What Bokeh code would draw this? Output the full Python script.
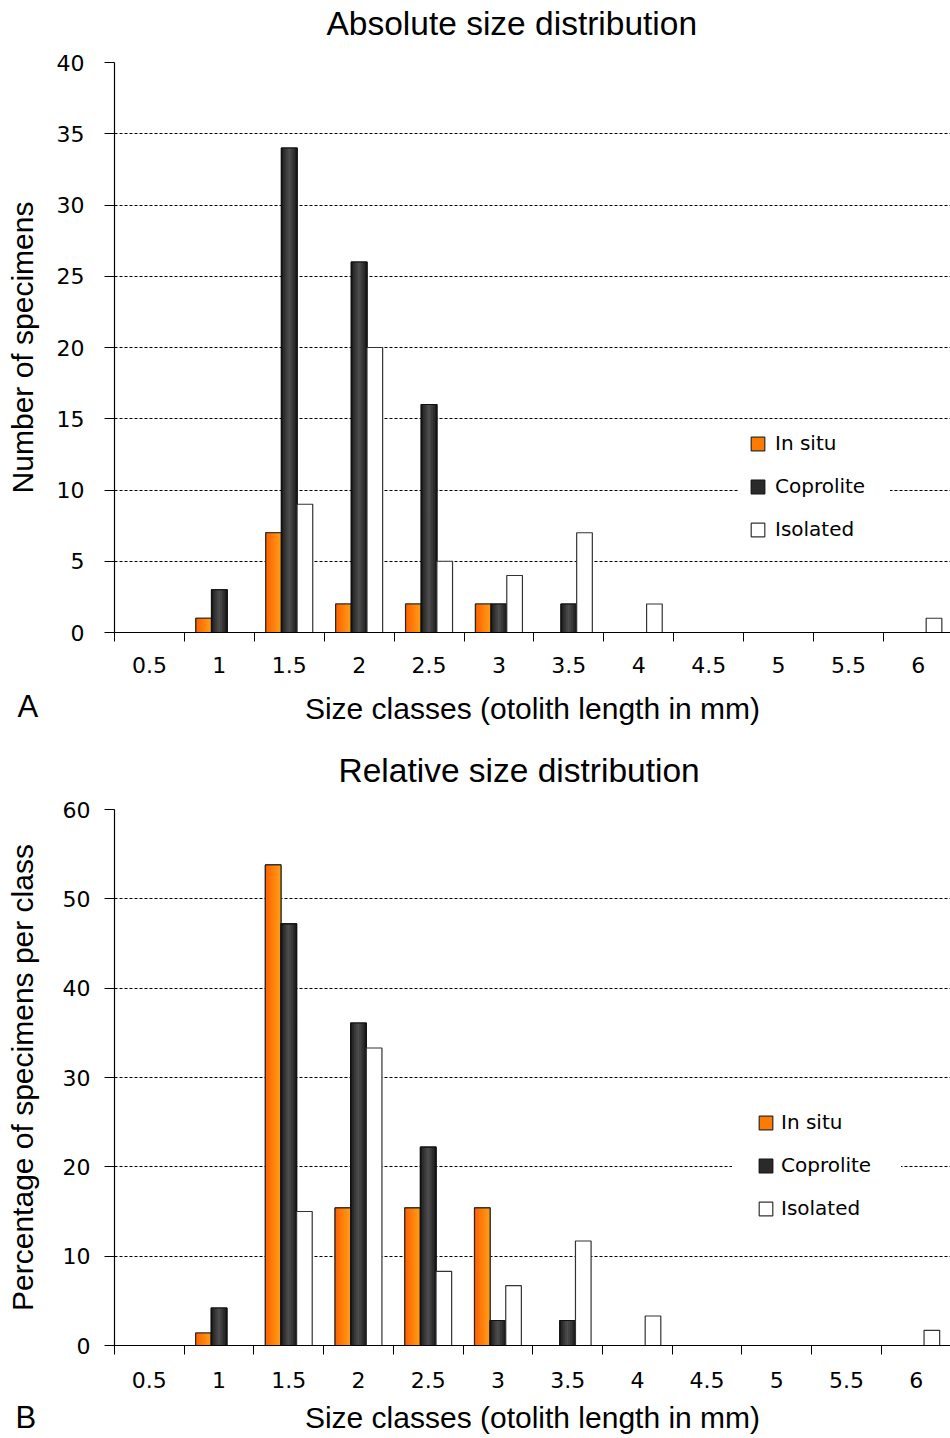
import numpy as np
from bokeh.plotting import figure
from bokeh.models import (FixedTicker, Legend, LegendItem, Range1d, Title,
                          ColumnDataSource, CustomJSTickFormatter)
from bokeh.core.properties import value
from bokeh.layouts import column
from bokeh.embed import file_html
from bokeh.resources import INLINE

# ---------------- data ----------------
size_classes = ["0.5", "1", "1.5", "2", "2.5", "3", "3.5", "4", "4.5", "5", "5.5", "6"]
series_names = ["In situ", "Coprolite", "Isolated"]

abs_in_situ   = [0, 1, 7, 2, 2, 2, 0, 0, 0, 0, 0, 0]
abs_coprolite = [0, 3, 34, 26, 16, 2, 2, 0, 0, 0, 0, 0]
abs_isolated  = [0, 0, 9, 20, 5, 4, 7, 2, 0, 0, 0, 1]

rel_in_situ   = [0, 1.4, 53.8, 15.4, 15.4, 15.4, 0, 0, 0, 0, 0, 0]
rel_coprolite = [0, 4.2, 47.2, 36.1, 22.2, 2.8, 2.8, 0, 0, 0, 0, 0]
rel_isolated  = [0, 0, 15.0, 33.3, 8.3, 6.7, 11.7, 3.3, 0, 0, 0, 1.7]

abs_ticks = list(range(0, 41, 5))
rel_ticks = list(range(0, 61, 10))

# ---------------- style ----------------
TITLE_FONT = "Liberation Sans"
TICK_FONT = "DejaVu Sans"
BAR_W = 0.224
OFFSETS = [-BAR_W, 0.0, BAR_W]
FIG_W = 950
N_STRIPS = 9


def mix(c1, c2, t):
    a = [int(c1[i:i + 2], 16) for i in (1, 3, 5)]
    b = [int(c2[i:i + 2], 16) for i in (1, 3, 5)]
    return "#%02x%02x%02x" % tuple(int(round(a[k] + (b[k] - a[k]) * t)) for k in range(3))


def grad_orange(t):
    return mix("#ff5e00", "#ffa018", t)


def grad_dark(t):
    d = 1 - abs(2 * t - 1)
    return mix("#0e0e0e", "#4e4e4e", d ** 0.7)


STYLES = [
    dict(base="#ff7a00", line="#2a2a2a", grad=grad_orange),
    dict(base="#2a2a2a", line="#111111", grad=grad_dark),
    dict(base="#ffffff", line="#333333", grad=None),
]


def make_panel(title_text, letter, ylabel, data, yticks, height, b_top, b_bottom,
               b_left, cat_px, title_offset, title_gap, legend_loc, legend_standoff,
               legend_halo, legend_label_w, letter_px, ylabel_standoff,
               ytick_standoff, xtick_standoff, xlabel_standoff):
    frame_w = FIG_W - b_left
    frame_h = height - b_top - b_bottom
    ymax = yticks[-1]
    p = figure(width=FIG_W, height=height, output_backend="svg", toolbar_location=None,
               title=None,
               min_border_left=b_left, min_border_right=0, min_border_top=b_top,
               min_border_bottom=b_bottom,
               x_range=Range1d(0, frame_w / cat_px), y_range=Range1d(0, ymax),
               background_fill_color="white", border_fill_color="white")
    p.outline_line_color = None

    # title: a thin spacer next to the frame, then the real title above it
    p.add_layout(Title(text=" ", text_font_size="1px", standoff=title_gap), "above")
    p.add_layout(Title(text=title_text, align="left", offset=title_offset, standoff=0,
                       text_font=TITLE_FONT, text_font_size="33.5px",
                       text_font_style="normal", text_color="black"), "above")

    # axes
    xa = p.xaxis[0]
    xa.ticker = FixedTicker(ticks=[i + 0.5 for i in range(len(size_classes))],
                            minor_ticks=list(range(len(size_classes) + 1)))
    xa.formatter = CustomJSTickFormatter(args=dict(labels=size_classes),
                                         code="return labels[Math.floor(tick)];")
    xa.major_tick_line_color = None
    xa.minor_tick_line_color = "black"
    xa.minor_tick_out = 9
    xa.minor_tick_in = 0
    xa.axis_line_color = "black"
    xa.axis_line_width = 1.2
    xa.major_label_standoff = xtick_standoff
    xa.major_label_text_font = TICK_FONT
    xa.major_label_text_font_size = "22px"
    xa.major_label_text_color = "black"
    xa.axis_label = "Size classes (otolith length in mm)"
    xa.axis_label_text_font = TITLE_FONT
    xa.axis_label_text_font_size = "30px"
    xa.axis_label_text_font_style = "normal"
    xa.axis_label_text_color = "black"
    xa.axis_label_standoff = xlabel_standoff

    ya = p.yaxis[0]
    ya.ticker = FixedTicker(ticks=yticks, minor_ticks=[])
    ya.major_tick_out = 10
    ya.major_tick_in = 0
    ya.major_tick_line_color = "black"
    ya.minor_tick_line_color = None
    ya.axis_line_color = "black"
    ya.axis_line_width = 1.2
    ya.major_label_standoff = ytick_standoff
    ya.major_label_text_font = TICK_FONT
    ya.major_label_text_font_size = "22px"
    ya.major_label_text_color = "black"
    ya.axis_label = ylabel
    ya.axis_label_text_font = TITLE_FONT
    ya.axis_label_text_font_size = "30px"
    ya.axis_label_text_font_style = "normal"
    ya.axis_label_text_color = "black"
    ya.axis_label_standoff = ylabel_standoff

    p.xgrid.visible = False
    p.ygrid.ticker = FixedTicker(ticks=yticks[1:])
    p.ygrid.grid_line_color = "black"
    p.ygrid.grid_line_dash = "3 2"
    p.ygrid.grid_line_width = 1

    # bars
    items = []
    centers = np.arange(len(size_classes)) + 0.5
    for k, (name, vals) in enumerate(zip(series_names, data)):
        st = STYLES[k]
        x = centers + OFFSETS[k]
        src = ColumnDataSource(dict(x=x, top=vals))
        base = p.vbar(x="x", top="top", bottom=0, width=BAR_W, source=src,
                      fill_color=st["base"], line_color=st["line"], line_width=1.2)
        if st["grad"] is not None:
            sw = BAR_W / N_STRIPS
            for j in range(N_STRIPS):
                t = (j + 0.5) / N_STRIPS
                xs = x - BAR_W / 2 + (j + 0.5) * sw
                s2 = ColumnDataSource(dict(x=xs, top=vals))
                p.vbar(x="x", top="top", bottom=0, width=sw * 1.2, source=s2,
                       fill_color=st["grad"](t), line_color=None)
            p.vbar(x="x", top="top", bottom=0, width=BAR_W, source=src,
                   fill_color=None, line_color=st["line"], line_width=1.2)
        items.append(LegendItem(label=name, renderers=[base]))

    legend = Legend(items=items, location=legend_loc)
    # a thick white outline widens the white area behind the legend
    legend.border_line_color = "white"
    legend.border_line_alpha = 1.0
    legend.border_line_width = legend_halo
    legend.background_fill_color = "white"
    legend.background_fill_alpha = 1.0
    legend.padding = 0
    legend.spacing = 19
    legend.glyph_width = 17
    legend.glyph_height = 17
    legend.label_height = 20
    legend.label_width = legend_label_w
    legend.label_standoff = legend_standoff
    legend.label_text_font = TICK_FONT
    legend.label_text_font_size = "20px"
    legend.label_text_color = "black"
    legend.margin = 0
    p.add_layout(legend, "center")

    # panel letter (A / B) left of the frame, beside the axis title
    px_per_y = frame_h / ymax
    p.text(x=[-letter_px[0] / cat_px], y=[-letter_px[1] / px_per_y], text=[letter],
           level="overlay", text_font=value(TITLE_FONT), text_font_size=value("31px"),
           text_align="left", text_baseline="middle", text_color="black")
    return p


p1 = make_panel("Absolute size distribution", "A", "Number of specimens",
                [abs_in_situ, abs_coprolite, abs_isolated], abs_ticks,
                height=728, b_top=62, b_bottom=96, b_left=114, cat_px=69.9,
                title_offset=212, title_gap=18,
                legend_loc=(625, 81), legend_standoff=9,
                legend_halo=10, legend_label_w=105,
                letter_px=(97, 74), ylabel_standoff=15, ytick_standoff=20,
                xtick_standoff=15, xlabel_standoff=16)

p2 = make_panel("Relative size distribution", "B", "Percentage of specimens per class",
                [rel_in_situ, rel_coprolite, rel_isolated], rel_ticks,
                height=708, b_top=81, b_bottom=91, b_left=113, cat_px=69.8,
                title_offset=224, title_gap=18,
                legend_loc=(618, 100), legend_standoff=7,
                legend_halo=25, legend_label_w=95,
                letter_px=(99, 72), ylabel_standoff=21, ytick_standoff=14,
                xtick_standoff=17, xlabel_standoff=10)

layout = column(p1, p2)
open("out.html", "w").write(file_html(layout, INLINE))
